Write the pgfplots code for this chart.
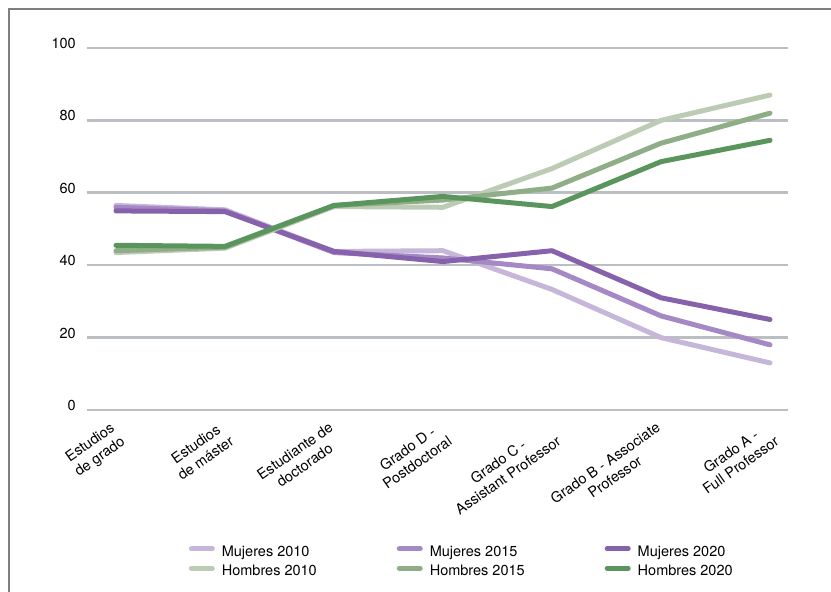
\documentclass[border=0pt]{standalone}
\usepackage{fontspec}
\setmainfont{TeX Gyre Heros}
\usepackage{pgfplots}
\pgfplotsset{compat=1.18}
\definecolor{mA}{HTML}{C6B6DA}
\definecolor{mB}{HTML}{A589C4}
\definecolor{mC}{HTML}{8662AC}
\definecolor{hA}{HTML}{BCCBB4}
\definecolor{hB}{HTML}{8FAE87}
\definecolor{hC}{HTML}{5B955E}
\definecolor{gridc}{HTML}{BBBEC2}
\definecolor{framec}{HTML}{7F7F7F}
\pgfplotstableread{
x  M10  M15  M20  H10  H15  H20
0  56.5 56.0 55.0 43.5 44.0 45.5
1  55.3 55.0 54.8 44.7 45.0 45.2
2  43.8 43.5 43.8 56.2 56.5 56.5
3  44.0 42.0 41.0 56.0 58.0 59.0
4  33.3 39.0 44.0 66.7 61.3 56.2
5  20.0 26.0 31.0 80.0 73.7 68.6
6  13.0 18.0 25.0 87.0 82.0 74.5
}\datatable
\begin{document}
\begin{tikzpicture}
\useasboundingbox (0pt,0pt) rectangle (831pt,592pt);
\draw[color=framec, line width=1.2pt] (9pt,-5pt) -- (9pt,583pt) -- (836pt,583pt);
\begin{axis}[
  at={(87pt,182pt)}, anchor=south west, scale only axis,
  width=701pt, height=362pt,
  xmin=-0.266, xmax=6.165, ymin=0, ymax=100,
  axis line style={draw=none},
  ytick={0,20,...,100}, ymajorgrids,
  grid style={color=gridc, line width=2.6pt},
  xtick={0,...,6},
  xticklabels={{Estudios\\de grado},{Estudios\\de máster},{Estudiante de\\doctorado},{Grado D -\\Postdoctoral},{Grado C -\\Assistant Professor},{Grado B - Associate\\Professor},{Grado A -\\Full Professor}},
  major tick length=0pt,
  tick label style={font=\fontsize{14.5}{17}\selectfont},
  /pgf/number format/assume math mode=true,
  yticklabel style={anchor=east, inner sep=0pt, xshift=-11pt, yshift=4.5pt},
  xticklabel style={xshift=-6pt, yshift=-11pt, rotate=35, anchor=north east, align=center, inner sep=0pt},
  legend columns=3,
  legend style={at={(0.145,-0.374)}, anchor=north west, draw=none, fill=none,
    font=\fontsize{14.5}{17}\selectfont, inner sep=0pt, row sep=6pt,
    nodes={inner sep=0pt, text height=10.5pt, text depth=3pt},
    /tikz/every odd column/.append style={column sep=7pt},
    /tikz/every even column/.append style={column sep=80pt}},
  legend cell align=left,
  legend image code/.code={\draw[#1, line width=5pt, line cap=round] (2.5pt,3.5pt) -- (23.5pt,3.5pt);},
  every axis plot/.append style={line width=5pt, line join=round, line cap=round, no markers},
  clip=false,
]
\addplot[color=mA] table[x=x, y=M10] {\datatable};
\addlegendentry{Mujeres 2010}
\addplot[color=mB] table[x=x, y=M15] {\datatable};
\addlegendentry{Mujeres 2015}
\addplot[color=mC] table[x=x, y=M20] {\datatable};
\addlegendentry{Mujeres 2020}
\addplot[color=hA] table[x=x, y=H10] {\datatable};
\addlegendentry{Hombres 2010}
\addplot[color=hB] table[x=x, y=H15] {\datatable};
\addlegendentry{Hombres 2015}
\addplot[color=hC] table[x=x, y=H20] {\datatable};
\addlegendentry{Hombres 2020}
\end{axis}
\end{tikzpicture}
\end{document}
